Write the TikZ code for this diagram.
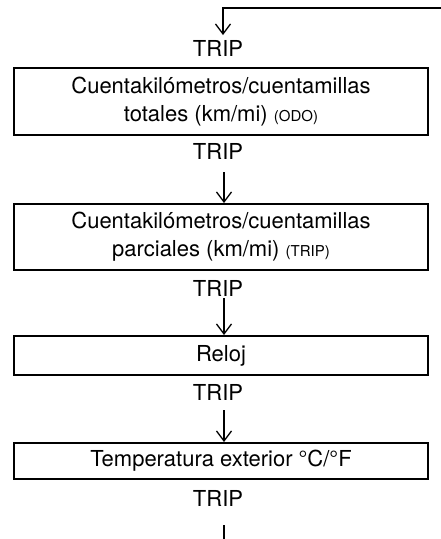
\documentclass[tikz,border=0pt]{standalone}
\usepackage{fontspec}
\setmainfont{TeX Gyre Heros}
\usetikzlibrary{arrows.meta}
\tikzstyle{box}=[draw=black,line width=2pt,minimum width=414pt,inner sep=0pt,align=center,font=\fontsize{22}{28}\selectfont]
\tikzstyle{lbl}=[inner sep=0pt,font=\fontsize{22}{28}\selectfont]
\tikzstyle{arr}=[line width=1.3pt,-{Straight Barb[length=10pt,width=15pt]}]
\newcommand{\smtxt}[1]{{\fontsize{15}{15}\selectfont #1}}

\begin{document}
\begin{tikzpicture}[x=1pt,y=-1pt]
	\useasboundingbox (0,0) rectangle (441,539);
	\node[box,minimum height=67pt] (odo) at (221,101.5) {Cuentakilómetros/cuentamillas\\totales (km/mi) \smtxt{(ODO)}};
	\node[box,minimum height=66pt] (parc) at (221,237) {Cuentakilómetros/cuentamillas\\parciales (km/mi) \smtxt{(TRIP)}};
	\node[box,minimum height=39pt] (reloj) at (221,355.5) {Reloj};
	\node[box,minimum height=36pt] (temp) at (221,461) {Temperatura exterior °C/°F};
	\foreach \n/\y in {1/48,2/151,3/288,4/392,5/498}
	\node[lbl] (trip\n) at (218,\y) {TRIP};
	% entrada desde arriba
	\coordinate (in) at (441,8);
	\coordinate (t1) at (223,35);
	\draw[arr] (in) -| (t1);
	\foreach \n/\y in {2/172,3/298,4/410}
	\coordinate (s\n) at (224,\y);
	\draw[arr] (s2) -- (s2 |- parc.north);
	\draw[arr] (s3) -- (s3 |- reloj.north);
	\draw[arr] (s4) -- (s4 |- temp.north);
	% salida hacia abajo
	\coordinate (s5) at (224,525);
	\coordinate (out) at (224,539);
	\draw[line width=1.3pt] (s5) -- (out);
\end{tikzpicture}
\end{document}
